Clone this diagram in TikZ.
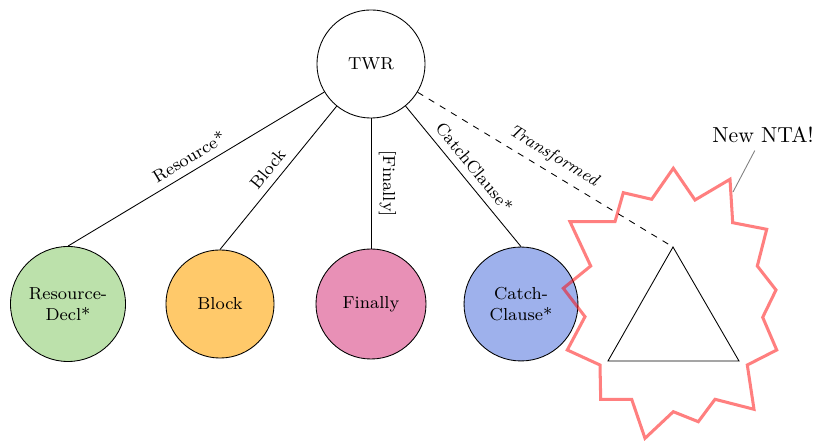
\documentclass[tikz,border=0pt]{standalone}
\usetikzlibrary{shapes.geometric}
\definecolor{declgreen}{RGB}{188,225,171}
\definecolor{blockorange}{RGB}{255,201,106}
\definecolor{finpink}{RGB}{232,144,182}
\definecolor{catchblue}{RGB}{158,177,236}
\begin{document}
\begin{tikzpicture}[x=0.4608pt,y=-0.4608pt,
  treenode/.style={circle,draw,line width=0.4pt,font=\footnotesize,align=center,inner sep=1pt},
  treeedge/.style={line width=0.4pt},
  edgelabel/.style={midway,above,sloped,font=\footnotesize},
  burst/.style={draw=red,draw opacity=0.5,line width=1.4pt,line join=miter}]
\useasboundingbox (0,0) rectangle (817,441);

% root and children
\node[treenode,minimum size=49.8pt] (twr) at (371,64) {TWR};
\node[treenode,fill=declgreen,minimum size=53pt] (decl) at (68,304) {Resource-\\Decl*};
\node[treenode,fill=blockorange,minimum size=49.8pt] (block) at (220,304) {Block};
\node[treenode,fill=finpink,minimum size=50.7pt] (fin) at (371,304) {Finally};
\node[treenode,fill=catchblue,minimum size=52.5pt] (catch) at (521,304) {Catch-\\Clause*};

% transformed subtree (triangle)
\coordinate (tri-top) at (673,247);
\coordinate (tri-right) at (739,361);
\coordinate (tri-left) at (608,361);
\draw[line width=0.4pt,line join=miter] (tri-top) -- (tri-right) -- (tri-left) -- cycle;

% edges
\draw[treeedge] (twr) -- (decl.north) node[edgelabel] {Resource*};
\draw[treeedge] (twr) -- (block.north) node[edgelabel] {Block};
\draw[treeedge] (twr) -- (fin.north) node[edgelabel] {[Finally]};
\draw[treeedge] (twr) -- (catch.north) node[edgelabel] {CatchClause*};
\draw[treeedge,dashed] (twr) -- (tri-top) node[edgelabel] {\itshape Transformed};

% starburst around the new subtree
\draw[burst] (673.3,168.3) -- (651.7,199.3) -- (623.3,192.7) -- (615,221.7)
  -- (570,221.7) -- (590.7,266) -- (563.3,288.3) -- (585,316.7)
  -- (567.3,350) -- (600,365) -- (600.7,399.3) -- (631.7,399.3)
  -- (645,438.3) -- (673.3,411.7) -- (698.3,421.7) -- (715,399.3)
  -- (754,409.3) -- (747.3,365) -- (776.7,350) -- (762.7,317.3)
  -- (776,290) -- (757.3,266) -- (766.7,229.3) -- (732.7,222.7)
  -- (730,179.3) -- (695,200) -- cycle;

% annotation
\node (nta) at (763,135) {New NTA!};
\coordinate (burst-pin) at (733,192);
\draw[gray,line width=0.4pt] (burst-pin) -- (nta);
\end{tikzpicture}
\end{document}
